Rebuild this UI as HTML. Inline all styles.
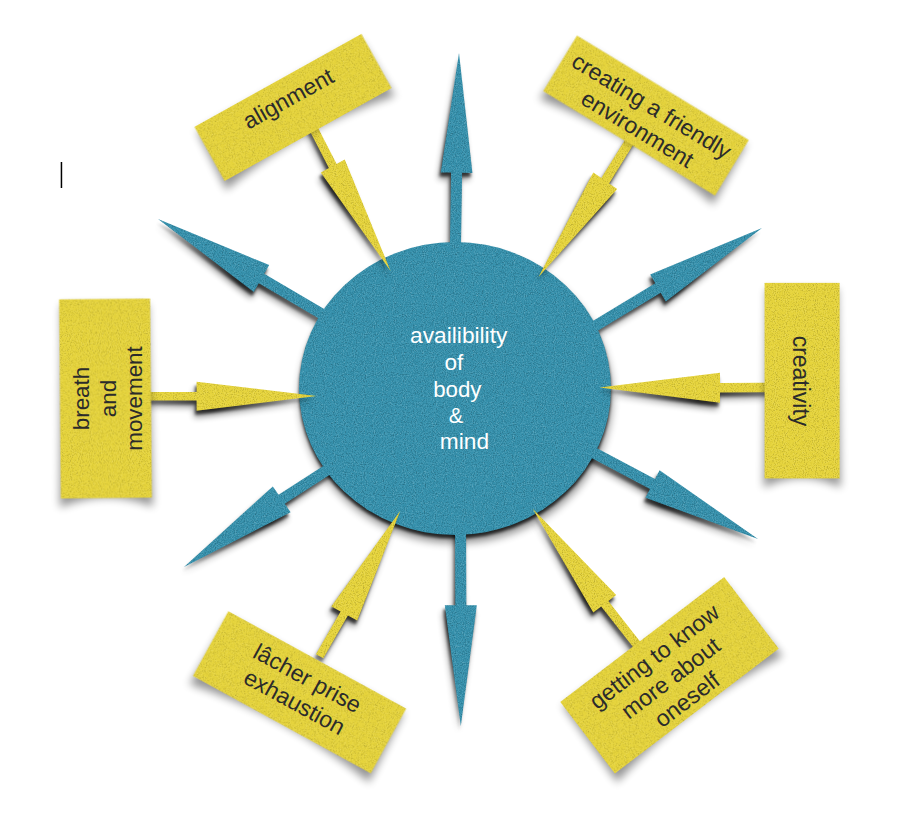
<!DOCTYPE html>
<html><head><meta charset="utf-8"><title>availibility of body and mind</title>
<style>
html,body{margin:0;padding:0;background:#fff;width:900px;height:821px;overflow:hidden;}
svg{display:block;font-family:"Liberation Sans",sans-serif;}
</style></head>
<body>
<svg width="900" height="821" viewBox="0 0 900 821" font-family="Liberation Sans, sans-serif">
<defs>
<filter id="gt" x="0" y="0" width="1" height="1" color-interpolation-filters="sRGB">
  <feTurbulence type="fractalNoise" baseFrequency="0.9" numOctaves="3" seed="4" result="t"/>
  <feColorMatrix in="t" type="matrix" values="0 0 0 0 0  0 0 0 0 0  0 0 0 0 0  0 0 0 -0.6 0.3" result="a"/>
  <feColorMatrix in="t" type="matrix" values="0 0 0 0 1  0 0 0 0 1  0 0 0 0 1  0 0 0 0.5 -0.25" result="w"/>
  <feComposite in="a" in2="SourceAlpha" operator="in" result="b"/>
  <feComposite in="w" in2="SourceAlpha" operator="in" result="wb"/>
  <feMerge><feMergeNode in="SourceGraphic"/><feMergeNode in="b"/><feMergeNode in="wb"/></feMerge>
</filter>
<filter id="gy" x="0" y="0" width="1" height="1" color-interpolation-filters="sRGB">
  <feTurbulence type="fractalNoise" baseFrequency="0.9" numOctaves="3" seed="9" result="t"/>
  <feColorMatrix in="t" type="matrix" values="0 0 0 0 0  0 0 0 0 0  0 0 0 0 0  0 0 0 -0.51 0.255" result="a"/>
  <feColorMatrix in="t" type="matrix" values="0 0 0 0 1  0 0 0 0 1  0 0 0 0 1  0 0 0 0.42 -0.212" result="w"/>
  <feComposite in="a" in2="SourceAlpha" operator="in" result="b"/>
  <feComposite in="w" in2="SourceAlpha" operator="in" result="wb"/>
  <feMerge><feMergeNode in="SourceGraphic"/><feMergeNode in="b"/><feMergeNode in="wb"/></feMerge>
</filter>
<filter id="sa" x="-30%" y="-30%" width="160%" height="160%"><feGaussianBlur stdDeviation="2.3"/></filter>
<filter id="sb" x="-30%" y="-30%" width="160%" height="160%"><feGaussianBlur stdDeviation="4"/></filter>
<filter id="sc" x="-30%" y="-30%" width="160%" height="160%"><feGaussianBlur stdDeviation="3"/></filter>
<filter id="sd" x="-30%" y="-30%" width="160%" height="160%"><feGaussianBlur stdDeviation="1.8"/></filter>
<linearGradient id="asg1" gradientUnits="userSpaceOnUse" x1="459" y1="53" x2="455.2" y2="262"><stop offset="0" stop-color="#000" stop-opacity="0.25"/><stop offset="0.487" stop-color="#000" stop-opacity="1"/><stop offset="0.659" stop-color="#000" stop-opacity="0.75"/><stop offset="1" stop-color="#000" stop-opacity="0.55"/></linearGradient>
<linearGradient id="asg2" gradientUnits="userSpaceOnUse" x1="158" y1="219" x2="333" y2="320.5"><stop offset="0" stop-color="#000" stop-opacity="0.25"/><stop offset="0.502" stop-color="#000" stop-opacity="1"/><stop offset="0.679" stop-color="#000" stop-opacity="0.75"/><stop offset="1" stop-color="#000" stop-opacity="0.55"/></linearGradient>
<linearGradient id="asg3" gradientUnits="userSpaceOnUse" x1="762" y1="228" x2="581" y2="334.5"><stop offset="0" stop-color="#000" stop-opacity="0.25"/><stop offset="0.486" stop-color="#000" stop-opacity="1"/><stop offset="0.657" stop-color="#000" stop-opacity="0.75"/><stop offset="1" stop-color="#000" stop-opacity="0.55"/></linearGradient>
<linearGradient id="asg4" gradientUnits="userSpaceOnUse" x1="758" y1="539" x2="579" y2="445"><stop offset="0" stop-color="#000" stop-opacity="0.25"/><stop offset="0.500" stop-color="#000" stop-opacity="1"/><stop offset="0.677" stop-color="#000" stop-opacity="0.75"/><stop offset="1" stop-color="#000" stop-opacity="0.55"/></linearGradient>
<linearGradient id="asg5" gradientUnits="userSpaceOnUse" x1="460.8" y1="726" x2="460.5" y2="516"><stop offset="0" stop-color="#000" stop-opacity="0.25"/><stop offset="0.489" stop-color="#000" stop-opacity="1"/><stop offset="0.662" stop-color="#000" stop-opacity="0.75"/><stop offset="1" stop-color="#000" stop-opacity="0.55"/></linearGradient>
<linearGradient id="asg6" gradientUnits="userSpaceOnUse" x1="184" y1="567" x2="338" y2="463"><stop offset="0" stop-color="#000" stop-opacity="0.25"/><stop offset="0.544" stop-color="#000" stop-opacity="1"/><stop offset="0.736" stop-color="#000" stop-opacity="0.75"/><stop offset="1" stop-color="#000" stop-opacity="0.55"/></linearGradient>
<linearGradient id="asg7" gradientUnits="userSpaceOnUse" x1="390.6" y1="271" x2="305" y2="112"><stop offset="0" stop-color="#000" stop-opacity="0.25"/><stop offset="0.564" stop-color="#000" stop-opacity="1"/><stop offset="0.763" stop-color="#000" stop-opacity="0.75"/><stop offset="1" stop-color="#000" stop-opacity="0.55"/></linearGradient>
<linearGradient id="asg8" gradientUnits="userSpaceOnUse" x1="538.5" y1="277" x2="638" y2="128"><stop offset="0" stop-color="#000" stop-opacity="0.25"/><stop offset="0.556" stop-color="#000" stop-opacity="1"/><stop offset="0.752" stop-color="#000" stop-opacity="0.75"/><stop offset="1" stop-color="#000" stop-opacity="0.55"/></linearGradient>
<linearGradient id="asg9" gradientUnits="userSpaceOnUse" x1="316.5" y1="396" x2="140" y2="396.25"><stop offset="0" stop-color="#000" stop-opacity="0.25"/><stop offset="0.577" stop-color="#000" stop-opacity="1"/><stop offset="0.781" stop-color="#000" stop-opacity="0.75"/><stop offset="1" stop-color="#000" stop-opacity="0.55"/></linearGradient>
<linearGradient id="asg10" gradientUnits="userSpaceOnUse" x1="599.5" y1="387.6" x2="775" y2="387.5"><stop offset="0" stop-color="#000" stop-opacity="0.25"/><stop offset="0.584" stop-color="#000" stop-opacity="1"/><stop offset="0.790" stop-color="#000" stop-opacity="0.75"/><stop offset="1" stop-color="#000" stop-opacity="0.55"/></linearGradient>
<linearGradient id="asg11" gradientUnits="userSpaceOnUse" x1="400.3" y1="510.7" x2="319.6" y2="656.3"><stop offset="0" stop-color="#000" stop-opacity="0.25"/><stop offset="0.598" stop-color="#000" stop-opacity="1"/><stop offset="0.809" stop-color="#000" stop-opacity="0.75"/><stop offset="1" stop-color="#000" stop-opacity="0.55"/></linearGradient>
<linearGradient id="asg12" gradientUnits="userSpaceOnUse" x1="532.7" y1="508.8" x2="645" y2="655"><stop offset="0" stop-color="#000" stop-opacity="0.25"/><stop offset="0.550" stop-color="#000" stop-opacity="1"/><stop offset="0.744" stop-color="#000" stop-opacity="0.75"/><stop offset="1" stop-color="#000" stop-opacity="0.55"/></linearGradient>
</defs>

<path d="M299,388.5 A156,146.5 0 1,0 611,388.5 A156,146.5 0 1,0 299,388.5 Z" transform="translate(1,8)" fill="#000" opacity="0.45" filter="url(#sb)"/>
<path d="M299,388.5 A156,146.5 0 1,0 611,388.5 A156,146.5 0 1,0 299,388.5 Z" transform="translate(0,3.5)" fill="#000" opacity="0.75" filter="url(#sd)"/>
<path d="M460.7,262.1 L462.1,172.8 L472.4,173.0 L459.0,53.0 L440.8,172.4 L451.1,172.6 L449.7,261.9 Z" transform="translate(-2.5,7)" fill="url(#asg1)" opacity="0.45" filter="url(#sc)"/>
<path d="M460.7,262.1 L462.1,172.8 L472.4,173.0 L459.0,53.0 L440.8,172.4 L451.1,172.6 L449.7,261.9 Z" transform="translate(-1.5,4)" fill="url(#asg1)" opacity="0.75" filter="url(#sd)"/>
<path d="M460.7,262.1 L462.1,172.8 L472.4,173.0 L459.0,53.0 L440.8,172.4 L451.1,172.6 L449.7,261.9 Z" fill="#3691ad" filter="url(#gt)"/>
<path d="M335.7,315.7 L264.2,273.7 L269.2,265.1 L158.0,219.0 L253.8,291.9 L258.8,283.3 L330.3,325.3 Z" transform="translate(-2.5,7)" fill="url(#asg2)" opacity="0.45" filter="url(#sc)"/>
<path d="M335.7,315.7 L264.2,273.7 L269.2,265.1 L158.0,219.0 L253.8,291.9 L258.8,283.3 L330.3,325.3 Z" transform="translate(-1.5,4)" fill="url(#asg2)" opacity="0.75" filter="url(#sd)"/>
<path d="M335.7,315.7 L264.2,273.7 L269.2,265.1 L158.0,219.0 L253.8,291.9 L258.8,283.3 L330.3,325.3 Z" fill="#3691ad" filter="url(#gt)"/>
<path d="M583.7,339.3 L660.7,292.8 L665.8,301.5 L762.0,228.0 L650.2,274.5 L655.3,283.2 L578.3,329.7 Z" transform="translate(-2.5,7)" fill="url(#asg3)" opacity="0.45" filter="url(#sc)"/>
<path d="M583.7,339.3 L660.7,292.8 L665.8,301.5 L762.0,228.0 L650.2,274.5 L655.3,283.2 L578.3,329.7 Z" transform="translate(-1.5,4)" fill="url(#asg3)" opacity="0.75" filter="url(#sd)"/>
<path d="M583.7,339.3 L660.7,292.8 L665.8,301.5 L762.0,228.0 L650.2,274.5 L655.3,283.2 L578.3,329.7 Z" fill="#3691ad" filter="url(#gt)"/>
<path d="M576.5,449.9 L650.0,488.9 L645.4,497.7 L758.0,539.0 L659.6,470.3 L655.0,479.1 L581.5,440.1 Z" transform="translate(-2.5,7)" fill="url(#asg4)" opacity="0.45" filter="url(#sc)"/>
<path d="M576.5,449.9 L650.0,488.9 L645.4,497.7 L758.0,539.0 L659.6,470.3 L655.0,479.1 L581.5,440.1 Z" transform="translate(-1.5,4)" fill="url(#asg4)" opacity="0.75" filter="url(#sd)"/>
<path d="M576.5,449.9 L650.0,488.9 L645.4,497.7 L758.0,539.0 L659.6,470.3 L655.0,479.1 L581.5,440.1 Z" fill="#3691ad" filter="url(#gt)"/>
<path d="M455.0,516.0 L455.3,605.2 L444.8,605.2 L460.8,726.0 L476.8,605.2 L466.3,605.2 L466.0,516.0 Z" transform="translate(-2.5,7)" fill="url(#asg5)" opacity="0.45" filter="url(#sc)"/>
<path d="M455.0,516.0 L455.3,605.2 L444.8,605.2 L460.8,726.0 L476.8,605.2 L466.3,605.2 L466.0,516.0 Z" transform="translate(-1.5,4)" fill="url(#asg5)" opacity="0.75" filter="url(#sd)"/>
<path d="M455.0,516.0 L455.3,605.2 L444.8,605.2 L460.8,726.0 L476.8,605.2 L466.3,605.2 L466.0,516.0 Z" fill="#3691ad" filter="url(#gt)"/>
<path d="M334.9,458.5 L278.6,494.8 L272.8,486.4 L184.0,567.0 L290.6,512.2 L284.8,503.8 L341.1,467.5 Z" transform="translate(-2.5,7)" fill="url(#asg6)" opacity="0.45" filter="url(#sc)"/>
<path d="M334.9,458.5 L278.6,494.8 L272.8,486.4 L184.0,567.0 L290.6,512.2 L284.8,503.8 L341.1,467.5 Z" transform="translate(-1.5,4)" fill="url(#asg6)" opacity="0.75" filter="url(#sd)"/>
<path d="M334.9,458.5 L278.6,494.8 L272.8,486.4 L184.0,567.0 L290.6,512.2 L284.8,503.8 L341.1,467.5 Z" fill="#3691ad" filter="url(#gt)"/>
<ellipse cx="455" cy="388.5" rx="156" ry="146.5" fill="#3691ad" filter="url(#gt)"/>
<path d="M301.1,114.1 L328.9,168.1 L320.8,172.6 L390.6,271.0 L344.7,159.4 L336.6,163.9 L308.9,109.9 Z" transform="translate(-2.5,7)" fill="url(#asg7)" opacity="0.45" filter="url(#sc)"/>
<path d="M301.1,114.1 L328.9,168.1 L320.8,172.6 L390.6,271.0 L344.7,159.4 L336.6,163.9 L308.9,109.9 Z" transform="translate(-1.5,4)" fill="url(#asg7)" opacity="0.75" filter="url(#sd)"/>
<path d="M301.1,114.1 L328.9,168.1 L320.8,172.6 L390.6,271.0 L344.7,159.4 L336.6,163.9 L308.9,109.9 Z" fill="#e6d43c" filter="url(#gy)"/>
<path d="M634.1,125.3 L601.4,178.1 L593.3,172.5 L538.5,277.0 L617.2,189.0 L609.1,183.4 L641.9,130.7 Z" transform="translate(-2.5,7)" fill="url(#asg8)" opacity="0.45" filter="url(#sc)"/>
<path d="M634.1,125.3 L601.4,178.1 L593.3,172.5 L538.5,277.0 L617.2,189.0 L609.1,183.4 L641.9,130.7 Z" transform="translate(-1.5,4)" fill="url(#asg8)" opacity="0.75" filter="url(#sd)"/>
<path d="M634.1,125.3 L601.4,178.1 L593.3,172.5 L538.5,277.0 L617.2,189.0 L609.1,183.4 L641.9,130.7 Z" fill="#e6d43c" filter="url(#gy)"/>
<path d="M140.0,400.5 L196.6,400.4 L196.6,410.7 L316.5,396.0 L196.6,381.7 L196.6,392.0 L140.0,392.0 Z" transform="translate(-2.5,7)" fill="url(#asg9)" opacity="0.45" filter="url(#sc)"/>
<path d="M140.0,400.5 L196.6,400.4 L196.6,410.7 L316.5,396.0 L196.6,381.7 L196.6,392.0 L140.0,392.0 Z" transform="translate(-1.5,4)" fill="url(#asg9)" opacity="0.75" filter="url(#sd)"/>
<path d="M140.0,400.5 L196.6,400.4 L196.6,410.7 L316.5,396.0 L196.6,381.7 L196.6,392.0 L140.0,392.0 Z" fill="#e6d43c" filter="url(#gy)"/>
<path d="M775.0,382.8 L720.0,383.1 L720.0,372.8 L599.5,387.6 L720.0,402.8 L720.0,392.5 L775.0,392.2 Z" transform="translate(-2.5,7)" fill="url(#asg10)" opacity="0.45" filter="url(#sc)"/>
<path d="M775.0,382.8 L720.0,383.1 L720.0,372.8 L599.5,387.6 L720.0,402.8 L720.0,392.5 L775.0,392.2 Z" transform="translate(-1.5,4)" fill="url(#asg10)" opacity="0.75" filter="url(#sd)"/>
<path d="M775.0,382.8 L720.0,383.1 L720.0,372.8 L599.5,387.6 L720.0,402.8 L720.0,392.5 L775.0,392.2 Z" fill="#e6d43c" filter="url(#gy)"/>
<path d="M323.3,658.3 L347.9,615.5 L357.2,620.6 L400.3,510.7 L331.3,606.4 L340.6,611.5 L315.9,654.3 Z" transform="translate(-2.5,7)" fill="url(#asg11)" opacity="0.45" filter="url(#sc)"/>
<path d="M323.3,658.3 L347.9,615.5 L357.2,620.6 L400.3,510.7 L331.3,606.4 L340.6,611.5 L315.9,654.3 Z" transform="translate(-1.5,4)" fill="url(#asg11)" opacity="0.75" filter="url(#sd)"/>
<path d="M323.3,658.3 L347.9,615.5 L357.2,620.6 L400.3,510.7 L331.3,606.4 L340.6,611.5 L315.9,654.3 Z" fill="#e6d43c" filter="url(#gy)"/>
<path d="M648.5,652.3 L608.3,601.1 L616.2,595.0 L532.7,508.8 L593.3,612.5 L601.2,606.4 L641.5,657.7 Z" transform="translate(-2.5,7)" fill="url(#asg12)" opacity="0.45" filter="url(#sc)"/>
<path d="M648.5,652.3 L608.3,601.1 L616.2,595.0 L532.7,508.8 L593.3,612.5 L601.2,606.4 L641.5,657.7 Z" transform="translate(-1.5,4)" fill="url(#asg12)" opacity="0.75" filter="url(#sd)"/>
<path d="M648.5,652.3 L608.3,601.1 L616.2,595.0 L532.7,508.8 L593.3,612.5 L601.2,606.4 L641.5,657.7 Z" fill="#e6d43c" filter="url(#gy)"/>
<g transform="translate(0,4)"><g transform="translate(293,107.5) rotate(-29.1)"><path d="M-93.5,-29.0 L93.5,-29.0 L96.5,36.0 Q0,17.0 -96.5,36.0 Z" fill="#000" opacity="0.42" filter="url(#sb)"/></g></g>
<g transform="translate(293,107.5) rotate(-29.1)"><rect x="-95.5" y="-31.0" width="191.0" height="62.0" fill="#e6d43c" filter="url(#gy)"/></g>
<g transform="translate(0,4)"><g transform="translate(646,115.6) rotate(31.3)"><path d="M-98.5,-30.5 L98.5,-30.5 L101.5,37.5 Q0,18.5 -101.5,37.5 Z" fill="#000" opacity="0.42" filter="url(#sb)"/></g></g>
<g transform="translate(646,115.6) rotate(31.3)"><rect x="-100.5" y="-32.5" width="201.0" height="65.0" fill="#e6d43c" filter="url(#gy)"/></g>
<g transform="translate(0,4)"><g transform="translate(105.5,398.5) rotate(-0.5)"><path d="M-43.5,-97.5 L43.5,-97.5 L46.5,104.5 Q0,85.5 -46.5,104.5 Z" fill="#000" opacity="0.42" filter="url(#sb)"/></g></g>
<g transform="translate(105.5,398.5) rotate(-0.5)"><rect x="-45.5" y="-99.5" width="91.0" height="199.0" fill="#e6d43c" filter="url(#gy)"/></g>
<g transform="translate(0,4)"><g transform="translate(802.1,380.7) rotate(0)"><path d="M-35.5,-95.8 L35.5,-95.8 L38.5,102.8 Q0,83.8 -38.5,102.8 Z" fill="#000" opacity="0.42" filter="url(#sb)"/></g></g>
<g transform="translate(802.1,380.7) rotate(0)"><rect x="-37.5" y="-97.8" width="75.0" height="195.5" fill="#e6d43c" filter="url(#gy)"/></g>
<g transform="translate(0,4)"><g transform="translate(299.5,692.3) rotate(28.7)"><path d="M-99.3,-34.9 L99.3,-34.9 L102.3,41.9 Q0,22.9 -102.3,41.9 Z" fill="#000" opacity="0.42" filter="url(#sb)"/></g></g>
<g transform="translate(299.5,692.3) rotate(28.7)"><rect x="-101.3" y="-36.9" width="202.7" height="73.7" fill="#e6d43c" filter="url(#gy)"/></g>
<g transform="translate(0,4)"><g transform="translate(669.5,675.3) rotate(-37.3)"><path d="M-101.0,-43.0 L101.0,-43.0 L104.0,50.0 Q0,31.0 -104.0,50.0 Z" fill="#000" opacity="0.42" filter="url(#sb)"/></g></g>
<g transform="translate(669.5,675.3) rotate(-37.3)"><rect x="-103.0" y="-45.0" width="206.0" height="90.0" fill="#e6d43c" filter="url(#gy)"/></g>
<g transform="translate(288.2,98.4) rotate(-29.1)" font-size="23" text-anchor="middle" fill="#2b2b2b">
<text x="0" y="8.0">alignment</text>
</g>
<g transform="translate(644.6,117.4) rotate(31.3)" font-size="23" text-anchor="middle" fill="#2b2b2b">
<text x="0" y="-5.5">creating a friendly</text>
<text x="0" y="21.5">environment</text>
</g>
<g transform="translate(108,398.5) rotate(-90)" font-size="22.4" text-anchor="middle" fill="#2b2b2b">
<text x="0" y="-18.7">breath</text>
<text x="0" y="7.8">and</text>
<text x="0" y="34.3">movement</text>
</g>
<g transform="translate(801.3,381) rotate(90)" font-size="23" text-anchor="middle" fill="#2b2b2b">
<text x="0" y="8.0">creativity</text>
</g>
<g transform="translate(301,690) rotate(28.7)" font-size="23" text-anchor="middle" fill="#2b2b2b">
<text x="0" y="-5.5">lâcher prise</text>
<text x="0" y="21.5">exhaustion</text>
</g>
<g transform="translate(670.5,678) rotate(-37.3)" font-size="23.2" text-anchor="middle" fill="#2b2b2b">
<text x="0" y="-18.9">getting to know</text>
<text x="0" y="8.1">more about</text>
<text x="0" y="35.1">oneself</text>
</g>
<g font-size="22.2" fill="#ffffff">
<text x="410.08" y="342.8" textLength="97.28" lengthAdjust="spacingAndGlyphs">availibility</text>
<text x="444.58" y="370.1" textLength="18.82" lengthAdjust="spacingAndGlyphs">of</text>
<text x="433.2" y="396.7" textLength="48.33" lengthAdjust="spacingAndGlyphs">body</text>
<text x="448.83" y="422.9" textLength="14.39" lengthAdjust="spacingAndGlyphs">&amp;</text>
<text x="439.88" y="449.4" textLength="49.14" lengthAdjust="spacingAndGlyphs">mind</text>
</g>
<rect x="60.7" y="162" width="1.5" height="26" fill="#000"/>
</svg>
</body></html>
